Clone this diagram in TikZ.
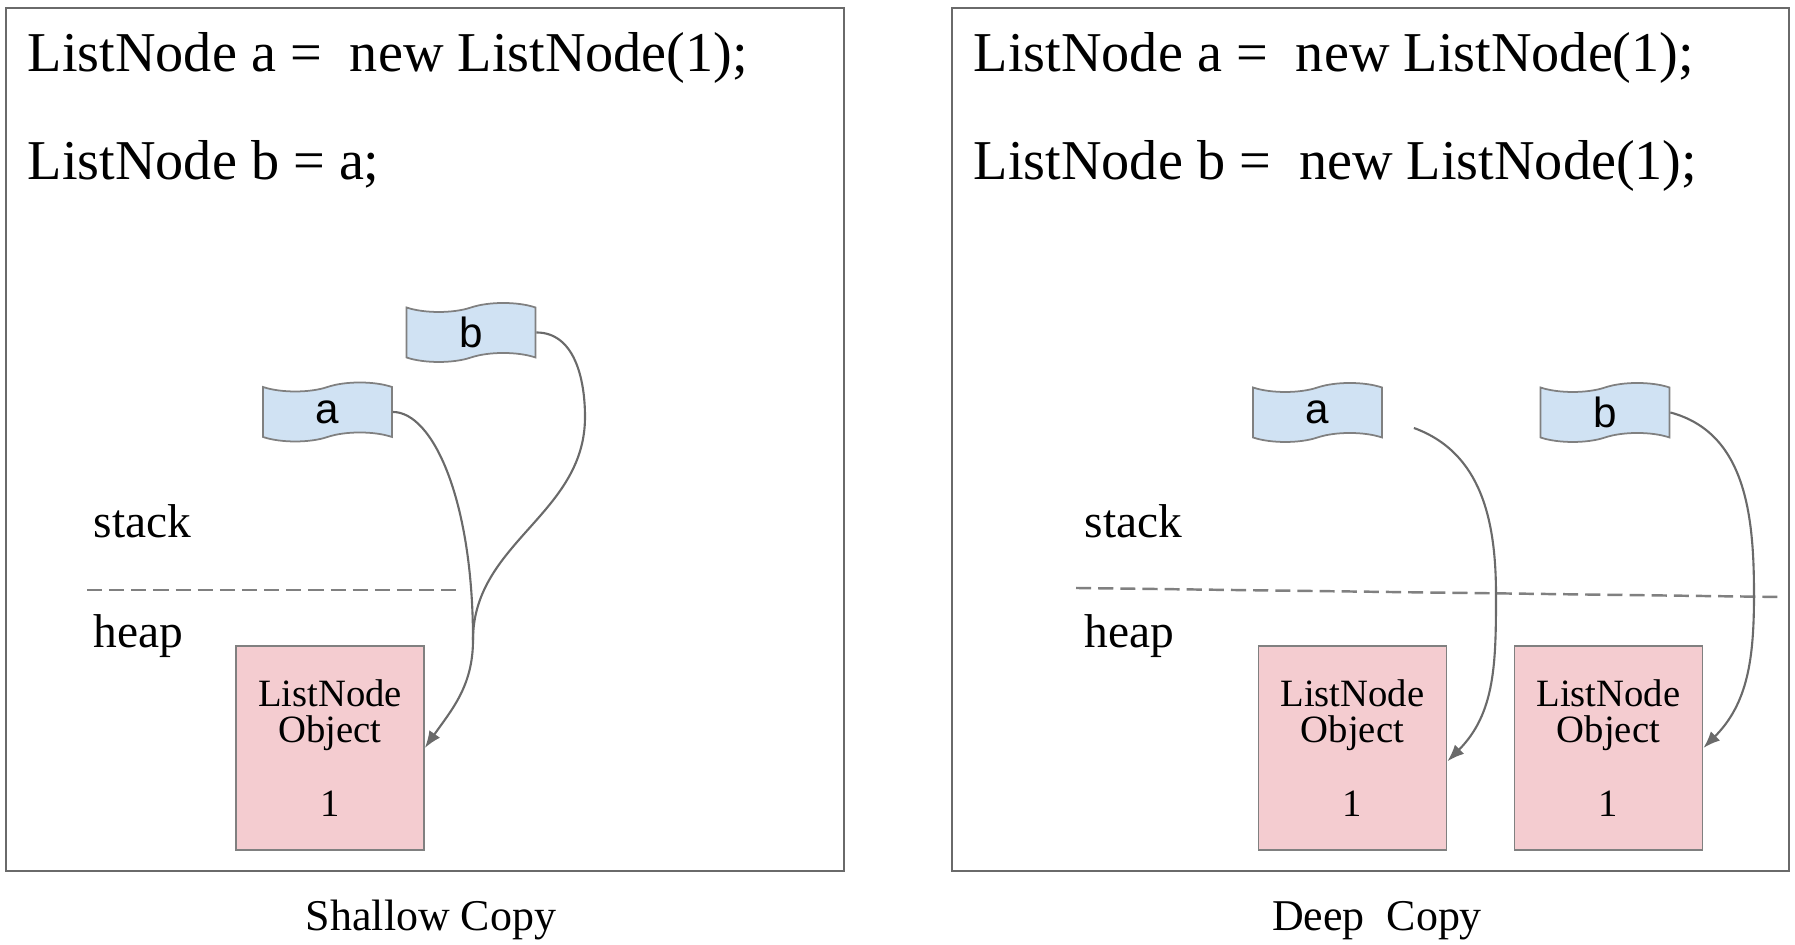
\documentclass[tikz,border=0pt]{standalone}
\usepackage{fontspec}
\setmainfont{Liberation Serif}
\newfontfamily\flagfont{Liberation Sans}
\usetikzlibrary{shapes.symbols, arrows.meta}
\definecolor{flagblue}{HTML}{D0E2F3}
\definecolor{objpink}{HTML}{F4CCD0}
\definecolor{edgegray}{HTML}{6A6A6A}
\begin{document}
\begin{tikzpicture}[
    every node/.style={inner sep=0pt},
    panel/.style={draw=edgegray, line width=0.6pt},
    code/.style={anchor=base west, font=\fontsize{16}{19}\selectfont},
    region/.style={anchor=base west, font=\fontsize{13.5}{16}\selectfont},
    caption/.style={anchor=base, font=\fontsize{12.5}{15}\selectfont},
    flag/.style={tape, draw=gray, fill=flagblue, line width=0.5pt,
                 minimum width=1.29cm, minimum height=0.59cm, tape bend height=0.09cm,
                 font=\flagfont\fontsize{12}{14}\selectfont},
    obj/.style={draw=gray, fill=objpink, line width=0.5pt, minimum width=1.88cm,
                minimum height=2.04cm, align=center, font=\fontsize{11}{10.2}\selectfont},
    divider/.style={draw=gray, dash pattern=on 4.3pt off 2pt, line width=0.7pt},
    wire/.style={draw=edgegray, line width=0.6pt},
    ref/.style={wire, -{Latex[length=0.17cm, width=0.13cm]}},
  ]
  \useasboundingbox (0,0) rectangle (17.95,9.45);

  % --- LEFT: shallow copy ---
  \draw[panel] (0.06,0.74) rectangle (8.44,9.37);
  \node[code] (sl1) at (0.27,8.73) {ListNode a =~~new ListNode(1);};
  \node[code] (sl2) at (0.27,7.65) {ListNode b = a;};
  \node[region] (sstack) at (0.93,4.07) {stack};
  \node[region] (sheap) at (0.93,2.97) {heap};
  \draw[divider] (0.87,3.55) -- (4.56,3.55);

  \node[flag] (sa) at (3.275,5.33) {a};
  \node[flag] (sb) at (4.71,6.125) {b};
  \node[obj] (sobj) at (3.30,1.97) {ListNode\\Object\\[11pt]1};

  % b joins a's pointer above the object
  \coordinate (merge) at (4.73,3.05);
  \draw[ref] (sa.east) to[out=0, in=90, out distance=0.4cm, in distance=1.4cm] (merge)
    to[out=-90, in=55] (sobj.east);
  \draw[wire] (sb.east) to[out=0, in=90] (5.85,5.28) to[out=-90, in=90] (merge);

  \node[caption] (scap) at (4.31,0.14) {Shallow Copy};

  % --- RIGHT: deep copy ---
  \draw[panel] (9.52,0.74) rectangle (17.89,9.37);
  \node[code] (dl1) at (9.73,8.73) {ListNode a =~~new ListNode(1);};
  \node[code] (dl2) at (9.73,7.65) {ListNode b =~~new ListNode(1);};
  \node[region] (dstack) at (10.84,4.07) {stack};
  \node[region] (dheap) at (10.84,2.97) {heap};
  \draw[divider] (10.76,3.57) -- (17.80,3.48);

  \node[flag] (da) at (13.175,5.325) {a};
  \node[flag] (db) at (16.05,5.325) {b};
  \node[obj] (dobja) at (13.525,1.97) {ListNode\\Object\\[11pt]1};
  \node[obj] (dobjb) at (16.085,1.97) {ListNode\\Object\\[11pt]1};

  \draw[ref] ([xshift=0.31cm, yshift=-0.155cm]da.east) to[out=-20, in=90] (14.96,3.50)
    to[out=-90, in=45] (dobja.-8);
  \draw[ref] (db.east) to[out=-15, in=90] (17.54,3.50) to[out=-90, in=45] (dobjb.east);

  \node[caption] (dcap) at (13.77,0.14) {Deep~~Copy};
\end{tikzpicture}
\end{document}
